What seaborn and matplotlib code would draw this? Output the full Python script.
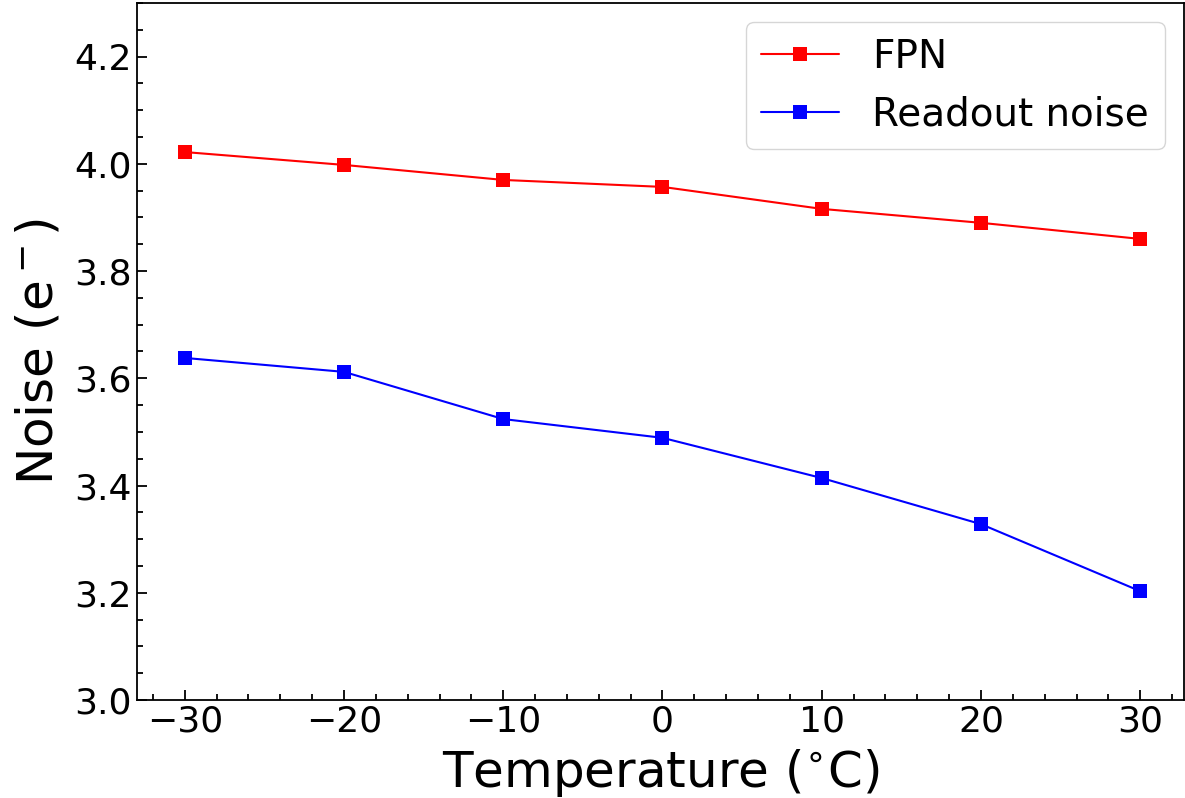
import pandas as pd
import matplotlib.pyplot as plt
import seaborn as sns
from matplotlib.ticker import MultipleLocator, AutoMinorLocator

# Data
temperature = [-30, -20, -10, 0, 10, 20, 30]
fpn = [4.022, 3.998, 3.970, 3.957, 3.916, 3.890, 3.860]
readout_noise = [3.638, 3.612, 3.524, 3.489, 3.414, 3.328, 3.203]
series_names = ["FPN", "Readout noise"]
series_colors = ["red", "blue"]

df = pd.concat([
    pd.DataFrame({"Temperature": temperature, "Noise": fpn, "series": series_names[0]}),
    pd.DataFrame({"Temperature": temperature, "Noise": readout_noise, "series": series_names[1]}),
])

sns.set_style("ticks")
plt.rcParams["font.family"] = ["DejaVu Sans"]
plt.rcParams["text.color"] = "black"
plt.rcParams["axes.labelcolor"] = "black"
plt.rcParams["xtick.color"] = "black"
plt.rcParams["ytick.color"] = "black"
plt.rcParams["axes.edgecolor"] = "black"

fig = plt.figure(figsize=(11.85, 7.98), dpi=100)
ax = fig.add_axes([137 / 1185, 1 - 700 / 798, (1184 - 137) / 1185, (700 - 3) / 798])

sns.lineplot(data=df, x="Temperature", y="Noise", hue="series",
             palette=dict(zip(series_names, series_colors)),
             marker="s", markersize=10, markeredgewidth=0, linewidth=1.5, ax=ax)

ax.set_xlim(-33.0, 32.75)
ax.set_ylim(3.0, 4.3)
ax.xaxis.set_major_locator(MultipleLocator(10))
ax.xaxis.set_minor_locator(AutoMinorLocator(5))
ax.yaxis.set_major_locator(MultipleLocator(0.2))
ax.yaxis.set_minor_locator(AutoMinorLocator(4))
ax.tick_params(which="both", direction="in", labelsize=26, width=1.3)
ax.tick_params(which="major", length=7)
ax.tick_params(which="minor", length=4)
for s in ax.spines.values():
    s.set_linewidth(1.3)

ax.set_xlabel("Temperature ($^{\\circ}$C)", fontsize=36, labelpad=6)
ax.set_ylabel("Noise (e$^-$)", fontsize=36, labelpad=9)

leg = ax.legend(loc="upper right", fontsize=28, frameon=True, handlelength=2.0,
                handletextpad=0.85, borderpad=0.4, labelspacing=0.5)
leg.get_frame().set_edgecolor("#cccccc")

fig.savefig("out.png", dpi=100)
